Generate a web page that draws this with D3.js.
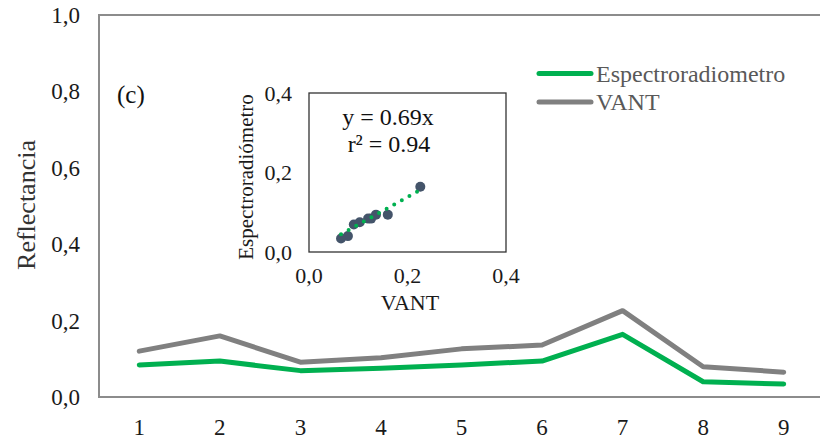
<!DOCTYPE html>
<html>
<head>
<meta charset="utf-8">
<script src="https://cdn.jsdelivr.net/npm/d3@7"></script>
<style>
  body { margin: 0; background: #fff; }
  svg { display: block; font-family: "Liberation Serif", "Times New Roman", serif; }
</style>
</head>
<body>
<svg id="chart" width="820" height="440"></svg>
<script>
// data
var categories = [1, 2, 3, 4, 5, 6, 7, 8, 9];
var espectro = [0.084, 0.094, 0.069, 0.075, 0.084, 0.094, 0.164, 0.040, 0.034];
var vant = [0.120, 0.160, 0.091, 0.103, 0.126, 0.136, 0.226, 0.079, 0.065];
var yTicks = [0, 0.2, 0.4, 0.6, 0.8, 1.0];
var insetTicks = [0, 0.2, 0.4];
var slope = 0.69;

var svg = d3.select("#chart");
var fmt = function(d){ return d3.format(".1f")(d).replace(".", ","); };

// main plot area
var plotLeft = 99, plotRight = 824, plotTop = 15, plotBottom = 397;

var x = d3.scaleBand().domain(categories).range([plotLeft, plotRight]);
var y = d3.scaleLinear().domain([0, 1]).range([plotBottom, plotTop]);

// frame (top, left, bottom)
svg.append("path")
    .attr("d", "M" + plotRight + "," + plotTop + "H" + plotLeft + "V" + plotBottom + "H" + plotRight)
    .attr("fill", "none")
    .attr("stroke", "#8c8c8c")
    .attr("stroke-width", 2);

// y tick labels
svg.append("g")
    .selectAll("text")
    .data(yTicks)
    .enter()
    .append("text")
    .attr("x", 80)
    .attr("y", function(d){ return y(d); })
    .attr("dy", "0.35em")
    .attr("text-anchor", "end")
    .attr("font-size", 23)
    .attr("fill", "#1a1a1a")
    .text(fmt);

// x tick labels
svg.append("g")
    .selectAll("text")
    .data(categories)
    .enter()
    .append("text")
    .attr("x", function(d){ return x(d) + x.bandwidth()/2; })
    .attr("y", 435)
    .attr("text-anchor", "middle")
    .attr("font-size", 23)
    .attr("fill", "#1a1a1a")
    .text(function(d){ return d; });

// y title
svg.append("text")
    .attr("transform", "translate(35,205) rotate(-90)")
    .attr("text-anchor", "middle")
    .attr("font-size", 26)
    .attr("fill", "#333")
    .text("Reflectancia");

svg.append("text")
    .attr("x", 117)
    .attr("y", 103)
    .attr("font-size", 25)
    .attr("fill", "#111")
    .text("(c)");

var line = d3.line()
    .x(function(d, i){ return x(categories[i]) + x.bandwidth()/2; })
    .y(function(d){ return y(d); });

svg.append("path")
    .datum(vant)
    .attr("d", line)
    .attr("fill", "none")
    .attr("stroke", "#808080")
    .attr("stroke-width", 5)
    .attr("stroke-linecap", "round")
    .attr("stroke-linejoin", "round");

svg.append("path")
    .datum(espectro)
    .attr("d", line)
    .attr("fill", "none")
    .attr("stroke", "#00b050")
    .attr("stroke-width", 5)
    .attr("stroke-linecap", "round")
    .attr("stroke-linejoin", "round");

// legend
var legend = [
    {name: "Espectroradiometro", color: "#00b050"},
    {name: "VANT", color: "#808080"}
];
var lg = svg.append("g")
    .selectAll("g")
    .data(legend)
    .enter()
    .append("g")
    .attr("transform", function(d, i){ return "translate(0," + (73.5 + i * 28.5) + ")"; });
lg.append("line")
    .attr("x1", 539).attr("x2", 591)
    .attr("stroke", function(d){ return d.color; })
    .attr("stroke-width", 5)
    .attr("stroke-linecap", "round");
lg.append("text")
    .attr("x", 596)
    .attr("y", 8)
    .attr("font-size", 24)
    .attr("fill", "#595959")
    .text(function(d){ return d.name; });

// inset scatter
var ix = d3.scaleLinear().domain([0, 0.4]).range([309, 506]);
var iy = d3.scaleLinear().domain([0, 0.4]).range([252, 93]);

svg.append("rect")
    .attr("x", 309).attr("y", 93)
    .attr("width", 197).attr("height", 159)
    .attr("fill", "#fff")
    .attr("stroke", "#333")
    .attr("stroke-width", 1.3);

svg.append("g")
    .selectAll("text")
    .data(insetTicks)
    .enter()
    .append("text")
    .attr("x", 292)
    .attr("y", function(d){ return iy(d); })
    .attr("dy", "0.35em")
    .attr("text-anchor", "end")
    .attr("font-size", 22)
    .attr("fill", "#1a1a1a")
    .text(fmt);

svg.append("g")
    .selectAll("text")
    .data(insetTicks)
    .enter()
    .append("text")
    .attr("x", function(d){ return ix(d); })
    .attr("y", 283)
    .attr("text-anchor", "middle")
    .attr("font-size", 22)
    .attr("fill", "#1a1a1a")
    .text(fmt);

svg.append("text")
    .attr("x", 410)
    .attr("y", 310)
    .attr("text-anchor", "middle")
    .attr("font-size", 22)
    .attr("fill", "#1a1a1a")
    .text("VANT");

svg.append("text")
    .attr("transform", "translate(253,177) rotate(-90)")
    .attr("text-anchor", "middle")
    .attr("font-size", 21)
    .attr("fill", "#1a1a1a")
    .text("Espectroradiómetro");

// trend line through origin over data range
var xMin = d3.min(vant), xMax = d3.max(vant);

svg.append("g")
    .selectAll("circle")
    .data(vant)
    .enter()
    .append("circle")
    .attr("cx", function(d){ return ix(d); })
    .attr("cy", function(d, i){ return iy(espectro[i]); })
    .attr("r", 5)
    .attr("fill", "#44546a");

svg.append("line")
    .attr("x1", ix(xMin)).attr("y1", iy(slope * xMin))
    .attr("x2", ix(xMax)).attr("y2", iy(slope * xMax))
    .attr("stroke", "#00b050")
    .attr("stroke-width", 4)
    .attr("stroke-linecap", "round")
    .attr("stroke-dasharray", "0,8.7");

svg.append("text")
    .attr("x", 388).attr("y", 125)
    .attr("text-anchor", "middle")
    .attr("font-size", 24)
    .attr("fill", "#111")
    .text("y = 0.69x");
svg.append("text")
    .attr("x", 389).attr("y", 152)
    .attr("text-anchor", "middle")
    .attr("font-size", 24)
    .attr("fill", "#111")
    .text("r² = 0.94");
</script>
</body>
</html>
